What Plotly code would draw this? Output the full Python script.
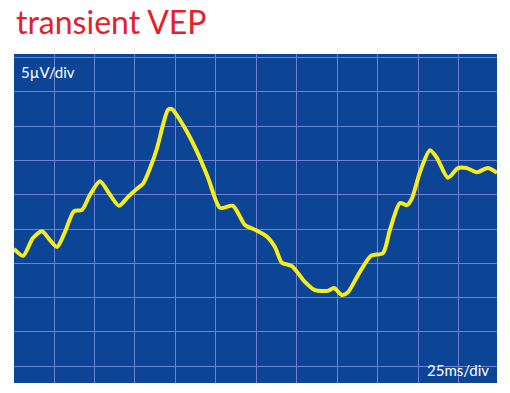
import plotly.graph_objects as go

# time in ms, amplitude in µV
time_ms = [0.3, 5.9, 12.0, 17.6, 22.5, 26.9, 31.8, 37.3, 42.3, 47.2, 53.4, 59.6, 65.1, 70.7,
           76.2, 79.9, 84.3, 88.6, 92.3, 95.4, 97.8, 100.9, 107.1, 113.3, 120.1, 127.5, 135.5,
           142.9, 149.1, 156.5, 161.4, 165.7, 171.9, 179.9, 186.1, 194.1, 197.8, 202.8, 206.5,
           212.7, 220.7, 228.1, 232.4, 238.6, 242.9, 246.0, 250.9, 257.1, 261.4, 268.2, 274.4,
           279.9, 286.1, 292.9, 298.5]
amp_uv = [-2.9, -3.9, -1.3, -0.3, -1.6, -2.6, -0.4, 2.6, 2.8, 5.0, 7.0, 5.0, 3.4, 4.7,
          5.9, 6.6, 8.9, 11.8, 15.2, 17.4, 17.5, 16.6, 14.2, 11.3, 7.5, 3.1, 3.4,
          0.6, -0.1, -1.1, -2.6, -4.9, -5.4, -7.7, -8.9, -9.0, -8.6, -9.6, -9.2,
          -6.7, -3.9, -3.5, -0.1, 3.8, 3.5, 4.5, 8.3, 11.5, 10.4, 7.5, 8.9,
          8.9, 8.3, 8.9, 8.2]

title_text = "transient VEP"
y_scale_label = "5µV/div"
x_scale_label = "25ms/div"

fig = go.Figure()
fig.add_trace(go.Scatter(
    x=time_ms, y=amp_uv, mode="lines",
    line=dict(color="#f7ec1c", width=4, shape="spline", smoothing=0.7),
    hoverinfo="skip", showlegend=False,
))

grid_color = "#6d82d3"
fig.update_layout(
    width=510, height=393,
    margin=dict(l=14, r=13, t=54, b=10),
    paper_bgcolor="white",
    plot_bgcolor="#0c4595",
    xaxis=dict(range=[0.3, 298.5], dtick=25, tick0=0, showgrid=True, gridcolor=grid_color,
               gridwidth=1, showticklabels=False, zeroline=False, showline=False, ticks=""),
    yaxis=dict(range=[-22.44, 25.54], dtick=5, tick0=0, showgrid=True, gridcolor=grid_color,
               gridwidth=1, showticklabels=False, zeroline=False, showline=False, ticks=""),
    annotations=[
        dict(text=title_text, xref="paper", yref="paper", x=0.0, y=1.0, xanchor="left",
             yanchor="bottom", yshift=11, showarrow=False,
             font=dict(family="Lato", size=32, color="#e3202b")),
        dict(text=y_scale_label, xref="paper", yref="paper", x=0.01, y=0.945, xanchor="left",
             yanchor="middle", showarrow=False,
             font=dict(family="Lato", size=15, color="white")),
        dict(text=x_scale_label, xref="paper", yref="paper", x=0.987, y=0.04, xanchor="right",
             yanchor="middle", showarrow=False,
             font=dict(family="Lato", size=15, color="white")),
    ],
)

# remove the browser's default 8px body margin so the figure fills the window
fig.write_html("out.html", config={"displayModeBar": False, "staticPlot": True},
               post_script="document.body.style.margin='0';")
